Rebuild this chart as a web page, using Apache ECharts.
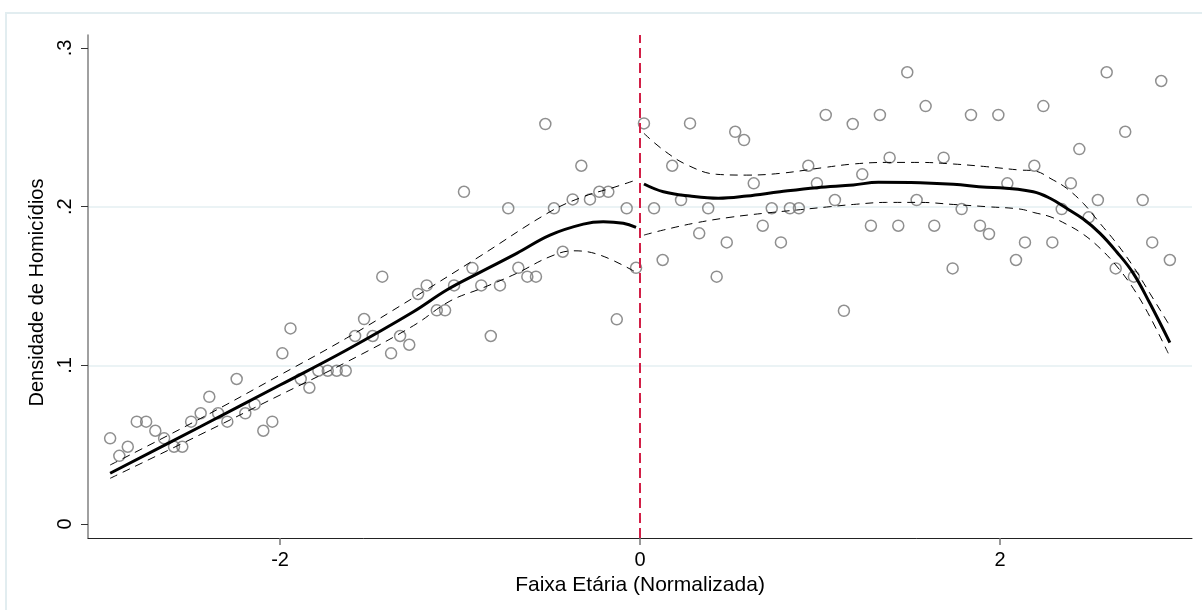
<!DOCTYPE html>
<html>
<head>
<meta charset="utf-8">
<script src="https://cdn.jsdelivr.net/npm/echarts@6/dist/echarts.min.js"></script>
<style>
  html, body { margin: 0; padding: 0; background: #fff; }
  #chart { width: 1202px; height: 610px; }
</style>
</head>
<body>
<div id="chart"></div>
<script>
// Binned homicide density by normalized age, left and right of the cutoff
const leftX = [-2.944, -2.893, -2.846, -2.796, -2.744, -2.693, -2.644, -2.589, -2.543, -2.494,
  -2.441, -2.393, -2.344, -2.293, -2.241, -2.193, -2.141, -2.093, -2.043, -1.987,
  -1.942, -1.885, -1.837, -1.787, -1.735, -1.685, -1.635, -1.583, -1.533, -1.485,
  -1.432, -1.383, -1.333, -1.282, -1.233, -1.185, -1.129, -1.083, -1.033, -0.978,
  -0.931, -0.882, -0.829, -0.778, -0.732, -0.676, -0.626, -0.578, -0.526, -0.478,
  -0.429, -0.374, -0.326, -0.278, -0.226, -0.176, -0.129, -0.074, -0.022];
const leftY = [0.054, 0.043, 0.0487, 0.0645, 0.0645, 0.0588, 0.054, 0.0487, 0.0487, 0.0645,
  0.0698, 0.0802, 0.0698, 0.0645, 0.0914, 0.0698, 0.0754, 0.0588, 0.0645, 0.1076,
  0.1233, 0.0914, 0.0859, 0.0966, 0.0966, 0.0966, 0.0966, 0.1185, 0.1292, 0.1185,
  0.1559, 0.1076, 0.1185, 0.113, 0.145, 0.1504, 0.1347, 0.1347, 0.1504, 0.2094,
  0.1613, 0.1504, 0.1185, 0.1504, 0.199, 0.1615, 0.1559, 0.1559, 0.2521, 0.199,
  0.1716, 0.2046, 0.2258, 0.2046, 0.2094, 0.2094, 0.129, 0.199, 0.1615];

const rightX = [0.022, 0.078, 0.126, 0.179, 0.228, 0.278, 0.329, 0.379, 0.426, 0.482,
  0.529, 0.578, 0.632, 0.682, 0.732, 0.783, 0.833, 0.883, 0.935, 0.983,
  1.032, 1.083, 1.133, 1.182, 1.235, 1.283, 1.333, 1.387, 1.435, 1.485,
  1.537, 1.587, 1.635, 1.687, 1.737, 1.787, 1.839, 1.889, 1.939, 1.991,
  2.041, 2.089, 2.139, 2.191, 2.241, 2.291, 2.343, 2.394, 2.441, 2.493,
  2.544, 2.593, 2.643, 2.696, 2.744, 2.793, 2.846, 2.896, 2.944];
const rightY = [0.2525, 0.199, 0.1664, 0.2258, 0.2042, 0.2525, 0.1832, 0.199, 0.1559, 0.1775,
  0.2472, 0.242, 0.2147, 0.188, 0.199, 0.1775, 0.199, 0.199, 0.2258, 0.2147,
  0.2578, 0.2042, 0.1344, 0.2521, 0.2204, 0.188, 0.2578, 0.2309, 0.188, 0.2847,
  0.2042, 0.2634, 0.188, 0.2309, 0.1611, 0.1985, 0.2578, 0.188, 0.1828, 0.2578,
  0.2147, 0.1664, 0.1775, 0.2258, 0.2634, 0.1775, 0.1985, 0.2147, 0.2363, 0.1933,
  0.2042, 0.2847, 0.1611, 0.2472, 0.1559, 0.2042, 0.1775, 0.2792, 0.1664];

// Local polynomial fit and its confidence band, left of the cutoff
const leftFitX = [-2.944, -2.444, -2.0, -1.63, -1.259, -1.074, -0.9, -0.685, -0.5, -0.315, -0.204, -0.093, -0.022];
const leftFitY = [0.032, 0.0613, 0.0876, 0.1097, 0.1338, 0.1475, 0.158, 0.1706, 0.1821, 0.189, 0.1905, 0.1895, 0.187];
const leftUpX = [-2.944, -2.444, -2.0, -1.63, -1.259, -0.9, -0.5, -0.315, -0.15, -0.022];
const leftUpY = [0.0372, 0.0664, 0.0939, 0.1172, 0.1426, 0.168, 0.1968, 0.2063, 0.212, 0.2168];
const leftLoX = [-2.944, -2.444, -2.0, -1.63, -1.259, -1.056, -0.87, -0.685, -0.5, -0.37, -0.222, -0.028];
const leftLoY = [0.0288, 0.0563, 0.0813, 0.1021, 0.125, 0.1405, 0.149, 0.158, 0.1685, 0.1722, 0.1695, 0.159];

// Same for the right of the cutoff
const rightFitX = [0.022, 0.13, 0.278, 0.435, 0.593, 0.778, 0.982, 1.185, 1.324, 1.556, 1.741, 1.926,
  2.0, 2.185, 2.278, 2.37, 2.463, 2.556, 2.648, 2.741, 2.833, 2.944];
const rightFitY = [0.2143, 0.2094, 0.2067, 0.2053, 0.2067, 0.2094, 0.212, 0.2137, 0.2154, 0.2151, 0.2141, 0.2122,
  0.212, 0.2094, 0.2053, 0.199, 0.1922, 0.1832, 0.1716, 0.158, 0.1391, 0.1143];
const rightUpX = [0.022, 0.13, 0.264, 0.427, 0.593, 0.778, 1.018, 1.185, 1.37, 1.556, 1.741, 1.926,
  2.111, 2.185, 2.296, 2.37, 2.463, 2.556, 2.648, 2.741, 2.833, 2.935];
const rightUpY = [0.2462, 0.2357, 0.2262, 0.2204, 0.2199, 0.221, 0.2246, 0.2269, 0.2279, 0.2279, 0.2269, 0.2252,
  0.2231, 0.2227, 0.2168, 0.2116, 0.2021, 0.1895, 0.1769, 0.1622, 0.1454, 0.1265];
const rightLoX = [0.022, 0.13, 0.315, 0.5, 0.685, 0.87, 1.056, 1.185, 1.37, 1.556, 1.741, 1.926,
  2.111, 2.185, 2.278, 2.37, 2.463, 2.556, 2.648, 2.741, 2.833, 2.935];
const rightLoY = [0.1821, 0.1853, 0.1899, 0.1933, 0.1958, 0.1979, 0.2, 0.2014, 0.2027, 0.2027, 0.2014, 0.2,
  0.1985, 0.1964, 0.1937, 0.1889, 0.1826, 0.1738, 0.1626, 0.1485, 0.1307, 0.1076];

// Axis ticks, cutoff and titles
const xTicks = [-2, 0, 2];
const yTicks = [0, 0.1, 0.2, 0.3];
const cutoff = 0;
const xTitle = 'Faixa Etária (Normalizada)';
const yTitle = 'Densidade de Homicídios';

const zip = (xs, ys) => xs.map((x, i) => [x, ys[i]]);
const font = '"Liberation Sans", Arial, sans-serif';

const fitLine = (xs, ys) => ({
  type: 'line', data: zip(xs, ys), smooth: 0.4, showSymbol: false, silent: true, z: 4,
  lineStyle: { color: '#000', width: 3 }
});
const bandLine = (xs, ys) => ({
  type: 'line', data: zip(xs, ys), smooth: 0.4, showSymbol: false, silent: true, z: 3,
  lineStyle: { color: '#000', width: 1, type: [8, 6] }
});
const dots = (xs, ys) => ({
  type: 'scatter', data: zip(xs, ys), symbol: 'circle', symbolSize: 11, silent: true, z: 2,
  itemStyle: { color: 'rgba(0,0,0,0)', borderColor: '#737373', borderWidth: 1.5 }
});

const chart = echarts.init(document.getElementById('chart'));
chart.setOption({
  animation: false,
  backgroundColor: '#fff',
  textStyle: { fontFamily: font },
  graphic: [{
    type: 'rect', silent: true, z: -10,
    shape: { x: 6, y: 13, width: 1220, height: 620 },
    style: { fill: 'none', stroke: '#e2edf0', lineWidth: 2 }
  }],
  grid: { left: 88, right: 10, top: 35, bottom: 72, outerBoundsMode: 'none' },
  xAxis: {
    type: 'value', min: -3.067, max: 3.067,
    name: xTitle, nameLocation: 'middle', nameGap: 32,
    nameTextStyle: { fontSize: 21, color: '#000', fontFamily: font },
    axisLine: { onZero: false, lineStyle: { color: '#222', width: 1 } },
    axisTick: { customValues: xTicks, length: 7, lineStyle: { color: '#777', width: 1.5 } },
    axisLabel: { customValues: xTicks, fontSize: 20, color: '#000', margin: 12, fontFamily: font },
    splitLine: { show: false }
  },
  yAxis: {
    type: 'value', min: -0.0088, max: 0.3082, splitNumber: 3,
    name: yTitle, nameLocation: 'middle', nameGap: 36,
    nameTextStyle: { fontSize: 20, color: '#000', fontFamily: font, padding: [0, 12, 0, 0] },
    axisLine: { show: true, onZero: false, lineStyle: { color: '#808080', width: 1.5 } },
    axisTick: { show: true, customValues: yTicks, length: 7, lineStyle: { color: '#333', width: 1 } },
    axisLabel: {
      customValues: yTicks, rotate: 90, fontSize: 20, color: '#000', margin: 13, fontFamily: font,
      formatter: v => (v === 0 ? '0' : String(+v.toFixed(2)).replace(/^0\./, '.'))
    },
    splitLine: { show: true, showMinLine: false, showMaxLine: false, lineStyle: { color: '#e5eff2', width: 1.5 } }
  },
  series: [
    dots(leftX, leftY),
    dots(rightX, rightY),
    bandLine(leftUpX, leftUpY),
    bandLine(leftLoX, leftLoY),
    bandLine(rightUpX, rightUpY),
    bandLine(rightLoX, rightLoY),
    fitLine(leftFitX, leftFitY),
    fitLine(rightFitX, rightFitY),
    {
      type: 'line', data: [], silent: true,
      markLine: {
        silent: true, symbol: 'none', label: { show: false },
        lineStyle: { color: '#d21f47', width: 2, type: [10, 5] },
        data: [{ xAxis: cutoff }]
      }
    }
  ]
});
</script>
</body>
</html>
